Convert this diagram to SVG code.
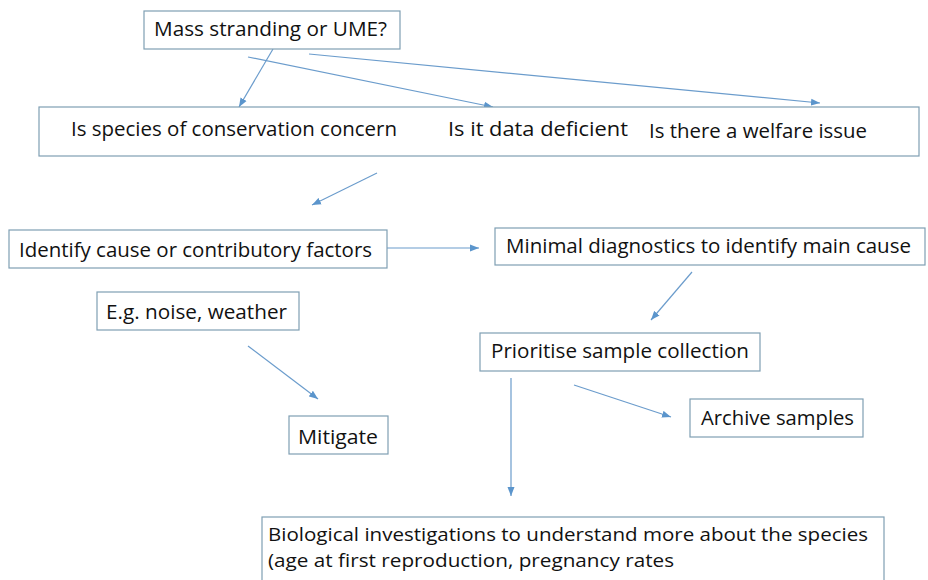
<svg xmlns="http://www.w3.org/2000/svg" width="928" height="580" viewBox="0 0 928 580">
  <defs>
    <style>
      .box { fill: #ffffff; stroke: #7f9fb3; stroke-width: 1.2; }
      .lbl { font-family: "Open Sans", "Liberation Sans", sans-serif; font-size: 19.5px; fill: #111111; }
      .sm { font-size: 18.5px; }
      .con { stroke: #6b9ccc; stroke-width: 1.2; fill: none; marker-end: url(#ah); }
    </style>
    <marker id="ah" markerUnits="userSpaceOnUse" markerWidth="10" markerHeight="8" refX="9" refY="4" orient="auto">
      <path d="M0,0.5 L9,4 L0,7.5 Z" fill="#5b95cc"/>
    </marker>
  </defs>
  <rect x="0" y="0" width="928" height="580" fill="#ffffff"/>

  <g id="connectors">
    <line class="con" x1="273" y1="49" x2="239" y2="107"/>
    <line class="con" x1="248" y1="57" x2="493" y2="107"/>
    <line class="con" x1="309" y1="54" x2="820" y2="103"/>
    <line class="con" x1="377" y1="173" x2="312" y2="205"/>
    <line class="con" x1="387" y1="248" x2="479" y2="248"/>
    <line class="con" x1="248" y1="346" x2="318" y2="399"/>
    <line class="con" x1="692" y1="272" x2="651" y2="320"/>
    <line class="con" x1="574" y1="385" x2="671" y2="417"/>
    <line class="con" x1="511" y1="378" x2="511" y2="496"/>
  </g>

  <g id="n-mass">
    <rect class="box" x="144" y="11" width="256" height="38"/>
    <text class="lbl" x="154" y="36" textLength="233" lengthAdjust="spacingAndGlyphs">Mass stranding or UME?</text>
  </g>

  <g id="n-questions">
    <rect class="box" x="39" y="107" width="880" height="49"/>
    <text class="lbl" x="71" y="136" textLength="326" lengthAdjust="spacingAndGlyphs">Is species of conservation concern</text>
    <text class="lbl" x="448" y="136" textLength="180" lengthAdjust="spacingAndGlyphs">Is it data deficient</text>
    <text class="lbl" x="649" y="138" textLength="218" lengthAdjust="spacingAndGlyphs">Is there a welfare issue</text>
  </g>

  <g id="n-identify">
    <rect class="box" x="9" y="230" width="378" height="38"/>
    <text class="lbl" x="19" y="257" textLength="353" lengthAdjust="spacingAndGlyphs">Identify cause or contributory factors</text>
  </g>

  <g id="n-minimal">
    <rect class="box" x="495" y="228" width="430" height="37"/>
    <text class="lbl" x="506" y="253" textLength="405" lengthAdjust="spacingAndGlyphs">Minimal diagnostics to identify main cause</text>
  </g>

  <g id="n-eg">
    <rect class="box" x="97" y="292" width="202" height="38"/>
    <text class="lbl" x="106" y="319" textLength="181" lengthAdjust="spacingAndGlyphs">E.g. noise, weather</text>
  </g>

  <g id="n-prioritise">
    <rect class="box" x="480" y="333" width="280" height="38"/>
    <text class="lbl" x="491" y="358" textLength="258" lengthAdjust="spacingAndGlyphs">Prioritise sample collection</text>
  </g>

  <g id="n-archive">
    <rect class="box" x="690" y="399" width="173" height="38"/>
    <text class="lbl" x="701" y="425" textLength="153" lengthAdjust="spacingAndGlyphs">Archive samples</text>
  </g>

  <g id="n-mitigate">
    <rect class="box" x="289" y="416" width="99" height="38"/>
    <text class="lbl" x="298" y="444" textLength="80" lengthAdjust="spacingAndGlyphs">Mitigate</text>
  </g>

  <g id="n-biological">
    <rect class="box" x="262" y="517" width="622" height="90"/>
    <text class="lbl sm" x="268" y="541" textLength="600" lengthAdjust="spacingAndGlyphs">Biological investigations to understand more about the species</text>
    <text class="lbl sm" x="268" y="567" textLength="406" lengthAdjust="spacingAndGlyphs">(age at first reproduction, pregnancy rates</text>
  </g>
</svg>
